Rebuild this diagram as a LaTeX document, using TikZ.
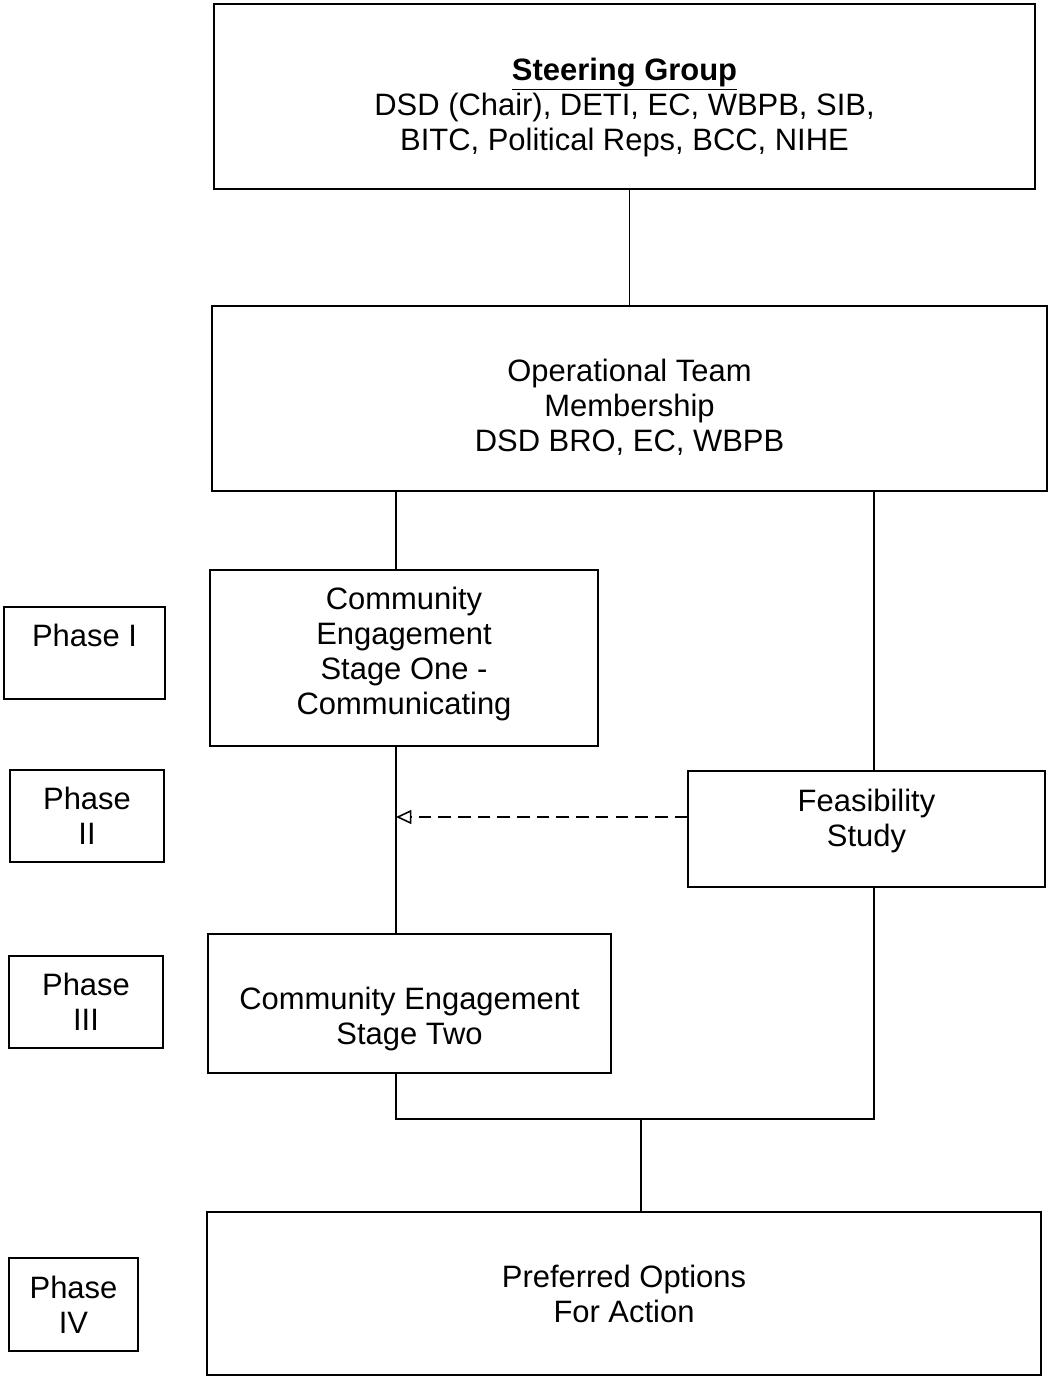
\documentclass[tikz,border=0pt]{standalone}
\usepackage{fontspec}
\setmainfont{Liberation Sans}
\usetikzlibrary{arrows.meta}

\begin{document}
\begin{tikzpicture}[x=0.025cm,y=-0.025cm,
    box/.style={draw,line width=1.1pt,align=center,inner sep=2pt,font=\boxfontsize},
    link/.style={line width=1.1pt}]
    \providecommand{\boxfontsize}{\fontsize{22}{24.9}\selectfont}
    \pgfmathsetmacro{\px}{0.025}
    \useasboundingbox (0,0) rectangle (1050,1378);
    % main column
    \node[box,minimum width=821*\px cm,minimum height=185*\px cm] (steer) at (624.5,96.5)
    {\rule{0pt}{31.5pt}\underline{\textbf{Steering Group}}\\DSD (Chair), DETI, EC, WBPB, SIB,\\BITC, Political Reps, BCC, NIHE};
    \node[box,minimum width=835*\px cm,minimum height=185*\px cm] (optm) at (629.5,398.5)
    {\rule{0pt}{29pt}Operational Team\\Membership\\DSD BRO, EC, WBPB};
    \node[box,minimum width=388*\px cm,minimum height=176*\px cm,text depth=10.2pt] (ce1) at (404,658)
    {Community\\Engagement\\Stage One -\\Communicating};
    \node[box,minimum width=357*\px cm,minimum height=116*\px cm,text depth=16pt] (feas) at (866.5,829)
    {Feasibility\\Study};
    \node[box,minimum width=403*\px cm,minimum height=139*\px cm] (ce2) at (409.5,1003.5)
    {\rule{0pt}{37.5pt}Community Engagement\\Stage Two};
    \node[box,minimum width=834*\px cm,minimum height=163*\px cm] (pref) at (624,1293.5)
    {Preferred Options\\For Action};
    % phases
    \node[box,minimum width=161*\px cm,minimum height=92*\px cm] (ph1) at (84.5,653) {Phase I\\\phantom{I}};
    \node[box,minimum width=154*\px cm,minimum height=92*\px cm] (ph2) at (87,816) {Phase\\II};
    \node[box,minimum width=154*\px cm,minimum height=92*\px cm] (ph3) at (86,1002) {Phase\\III};
    \node[box,minimum width=129*\px cm,minimum height=93*\px cm] (ph4) at (73.5,1304.5) {Phase\\IV};
    % connectors
    \coordinate (lx) at (396,0);
    \coordinate (rx) at (874,0);
    \coordinate (jn) at (641,1119);
    \draw[link] (steer.south -| optm.north) -- (optm.north);
    \draw[link] (optm.south -| lx) -- (ce1.north -| lx);
    \draw[link] (optm.south -| rx) -- (feas.north -| rx);
    \draw[link] (ce1.south -| lx) -- (ce2.north -| lx);
    \draw[link,dashed,dash pattern=on 9pt off 5pt,-{Triangle[open,length=11pt,width=10pt]}]
        ([yshift=0.3cm]feas.west) -- ([yshift=0.3cm]feas.west -| lx);
    \draw[link] (ce2.south -| lx) |- (jn) -| (feas.south -| rx);
    \draw[link] (jn) -- (jn |- pref.north);
\end{tikzpicture}
\end{document}
